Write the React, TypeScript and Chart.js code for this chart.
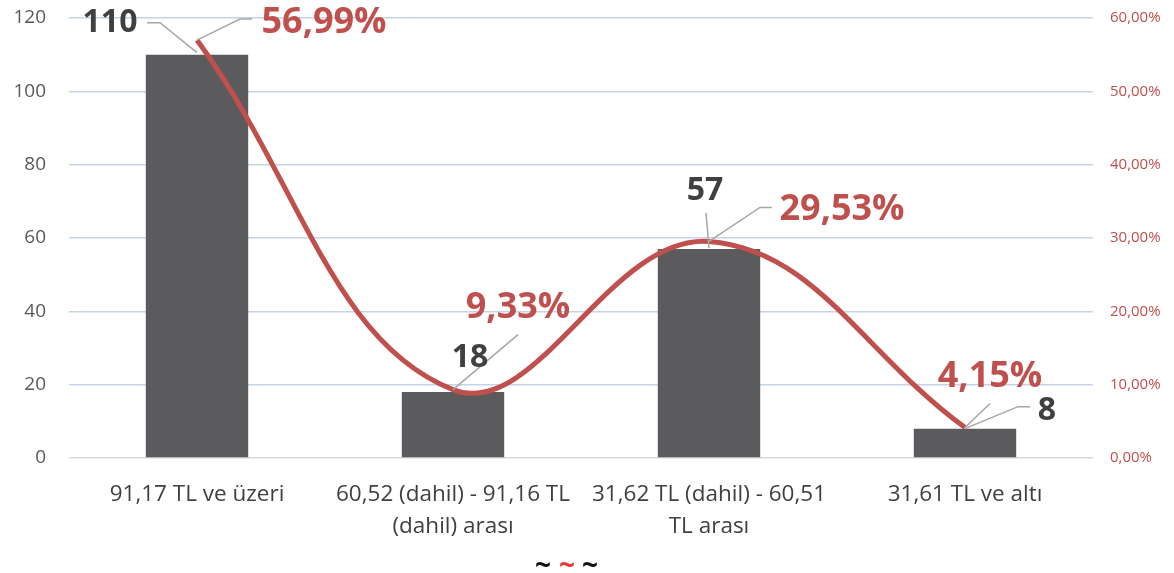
import React, { useEffect, useRef } from "react";
import { Chart, registerables } from "chart.js";

Chart.register(...registerables);

const categories: string[][] = [
  ["91,17 TL ve üzeri"],
  ["60,52 (dahil) - 91,16 TL", "(dahil) arası"],
  ["31,62 TL (dahil) - 60,51", "TL arası"],
  ["31,61 TL ve altı"],
];
const counts: number[] = [110, 18, 57, 8];
const percents: number[] = [56.99, 9.33, 29.53, 4.15];
const legendMarks: string[] = ["~", "~", "~"];

const FONT = "'Open Sans', 'DejaVu Sans', sans-serif";
const BAR_COLOR = "#5b5b5d";
const LINE_COLOR = "#c0504d";
const COUNT_COLOR = "#404040";
const LEADER = "#a6a6a6";

// label placement relative to anchor (bar top / line point)
const countLabelOffsets = [
  { dx: -87, dy: -32, leader: [[-50, -32], [-37, -32], [0, -2]] },
  { dx: 17, dy: -34, leader: [] },
  { dx: -4, dy: -58, leader: [[-3, -36], [0, -1]] },
  { dx: 82, dy: -18, leader: [[0, 0], [53, -22], [65, -22]] },
];
const pctLabelOffsets = [
  { dx: 127, dy: -17, leader: [[0, 0], [43, -21], [55, -21]] },
  { dx: 65, dy: -82, leader: [[0, 0], [65, -55]] },
  { dx: 133, dy: -32, leader: [[0, 0], [51, -34], [63, -34]] },
  { dx: 25, dy: -51, leader: [[0, 0], [25, -24]] },
];

const fmtPct = (v: number) => v.toFixed(2).replace(".", ",") + "%";

const labelPlugin = {
  id: "customLabels",
  afterDatasetsDraw(chart: any) {
    const ctx = chart.ctx as CanvasRenderingContext2D;
    const barMeta = chart.getDatasetMeta(1);
    const lineMeta = chart.getDatasetMeta(0);
    ctx.save();
    const drawLeader = (ax: number, ay: number, pts: number[][]) => {
      if (!pts.length) return;
      ctx.beginPath();
      ctx.strokeStyle = LEADER;
      ctx.lineWidth = 1.5;
      pts.forEach((p, i) => {
        if (i === 0) ctx.moveTo(ax + p[0], ay + p[1]);
        else ctx.lineTo(ax + p[0], ay + p[1]);
      });
      ctx.stroke();
    };
    counts.forEach((_, i) => {
      const el = barMeta.data[i];
      drawLeader(el.x, el.y, countLabelOffsets[i].leader);
    });
    percents.forEach((_, i) => {
      const el = lineMeta.data[i];
      drawLeader(el.x, el.y, pctLabelOffsets[i].leader);
    });
    ctx.textAlign = "center";
    ctx.textBaseline = "middle";
    counts.forEach((v, i) => {
      const el = barMeta.data[i];
      const o = countLabelOffsets[i];
      ctx.font = `bold 32px ${FONT}`;
      ctx.fillStyle = COUNT_COLOR;
      ctx.fillText(String(v), el.x + o.dx, el.y + o.dy);
    });
    percents.forEach((v, i) => {
      const el = lineMeta.data[i];
      const o = pctLabelOffsets[i];
      ctx.font = `bold 36px ${FONT}`;
      ctx.fillStyle = LINE_COLOR;
      ctx.fillText(fmtPct(v), el.x + o.dx, el.y + o.dy);
    });
    ctx.restore();
  },
  afterDraw(chart: any) {
    const ctx = chart.ctx as CanvasRenderingContext2D;
    ctx.save();
    ctx.font = `bold 28px ${FONT}`;
    ctx.textAlign = "center";
    ctx.textBaseline = "middle";
    const xs = [543, 567, 590];
    legendMarks.forEach((m, i) => {
      ctx.fillStyle = i === 1 ? "#e53935" : "#111111";
      ctx.fillText(m, xs[i], 567);
    });
    ctx.restore();
  },
};

export default function App() {
  const ref = useRef<HTMLCanvasElement | null>(null);
  useEffect(() => {
    if (!ref.current) return;
    const chart = new Chart(ref.current, {
      type: "bar",
      data: {
        labels: categories,
        datasets: [
          {
            type: "line",
            data: percents,
            yAxisID: "y1",
            borderColor: LINE_COLOR,
            borderWidth: 5,
            tension: 0.4,
            pointRadius: 0,
            fill: false,
            order: 0,
          } as any,
          {
            type: "bar",
            data: counts,
            yAxisID: "y",
            backgroundColor: BAR_COLOR,
            barPercentage: 0.4,
            categoryPercentage: 1,
            order: 1,
          },
        ],
      },
      options: {
        animation: false,
        responsive: true,
        maintainAspectRatio: false,
        layout: { padding: { top: 18, left: 0, right: 0, bottom: 0 } },
        plugins: { legend: { display: false }, tooltip: { enabled: false } },
        scales: {
          x: {
            grid: { display: false },
            border: { display: false },
            ticks: {
              font: { family: FONT, size: 22.5, lineHeight: 1.45 },
              color: COUNT_COLOR,
              padding: 12,
              maxRotation: 0,
              autoSkip: false,
            },
            afterFit: (s: any) => {
              s.height = 115;
              s.paddingLeft = 0;
              s.paddingRight = 0;
            },
          },
          y: {
            position: "left",
            min: 0,
            max: 120,
            ticks: {
              stepSize: 20,
              font: { family: FONT, size: 19 },
              color: "#595959",
              padding: 23,
            },
            grid: {
              drawTicks: false,
              color: (c: any) => (c.tick && c.tick.value === 0 ? "#d9d9d9" : "#c3d4ea"),
              lineWidth: 1.4,
            },
            border: { display: false },
            afterFit: (s: any) => {
              s.width = 69;
              s.paddingTop = 0;
              s.paddingBottom = 0;
            },
          },
          y1: {
            position: "right",
            min: 0,
            max: 60,
            ticks: {
              stepSize: 10,
              font: { family: FONT, size: 15 },
              color: LINE_COLOR,
              padding: 17,
              callback: (v: any) => fmtPct(Number(v)),
            },
            grid: { drawOnChartArea: false, drawTicks: false },
            border: { display: false },
            afterFit: (s: any) => {
              s.width = 81;
              s.paddingTop = 0;
              s.paddingBottom = 0;
            },
          },
        },
      },
      plugins: [labelPlugin],
    });
    return () => chart.destroy();
  }, []);
  return (
    <div style={{ position: "absolute", left: 0, top: 0, width: 1174, height: 573 }}>
      <canvas ref={ref} />
    </div>
  );
}
